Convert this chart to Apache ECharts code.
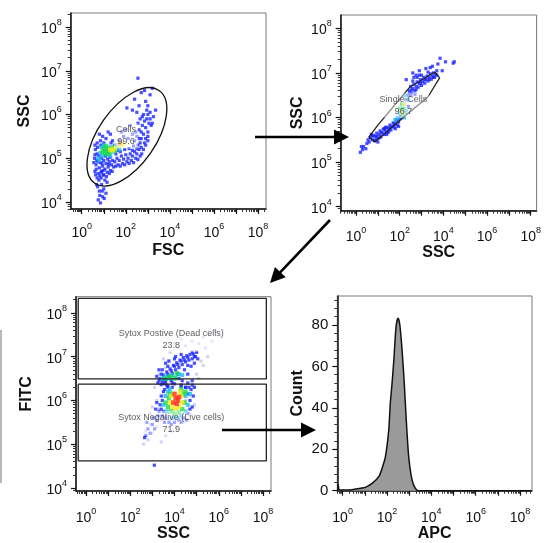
<!DOCTYPE html>
<html>
<head>
<meta charset="utf-8">
<script src="https://cdn.jsdelivr.net/npm/echarts@6/dist/echarts.min.js"></script>
<style>
  html, body { margin: 0; padding: 0; background: #fff; }
  #chart { width: 544px; height: 543px; }
</style>
</head>
<body>
<div id="chart"></div>
<script>
// ---- Axis tick labels (decade exponents) ----
const logXLabels = [0, 2, 4, 6, 8];
const logYLabels = [4, 5, 6, 7, 8];
const countLabels = [0, 20, 40, 60, 80];

// ---- Gate names and frequencies ----
const gateNames = ['Cells', 'Single Cells', 'Sytox Postive (Dead cells)', 'Sytox Negative (Live cells)'];
const gatePercents = ['99.6', '96.7', '23.8', '71.9'];

// ---- Panel 1: FSC vs SSC (log10 values) ----
const p1Blue = [
  [0.75,4.05],[0.85,3.98],[0.95,4.12],[0.8,4.25],[1.0,4.3],[0.9,4.4],[1.1,4.2],[0.72,4.35],[1.05,4.5],[0.88,4.55],[0.98,4.62],[1.15,4.45],[0.78,4.5],[0.82,4.15],
  [0.6,4.7],[0.65,4.85],[0.58,5.0],[0.7,5.1],[0.75,4.65],[0.8,4.78],[0.85,4.9],[0.9,4.7],[0.95,4.82],[1.0,4.95],[1.05,4.75],[1.1,4.88],[1.15,4.68],[1.2,4.8],[1.25,4.92],[1.3,4.72],[1.35,4.85],[0.68,4.95],[0.78,5.05],[0.62,5.2],[0.72,5.25],[0.82,4.6],[1.0,4.62],[1.18,4.98],[1.4,4.95],[1.45,4.8],[0.9,5.0],[1.08,5.05],[0.55,4.9],[1.28,5.02],[0.66,4.75],[0.92,4.88],[1.22,4.86],[0.74,4.92],
  [0.63,4.62],[0.7,4.55],[0.88,4.68],[0.97,4.72],[1.12,4.58],[1.25,4.65],[1.38,4.7],[0.6,5.08],[0.87,5.3],[1.33,5.35],[1.5,5.3],[0.67,4.4],[0.93,4.25],[1.02,4.08],
  [0.7,5.35],[0.85,5.4],[0.95,5.5],[1.1,5.45],[1.2,5.6],[1.3,5.55],[0.8,5.55],[1.4,5.4],[1.0,5.35],[0.6,5.3],
  [1.5,4.92],[1.6,5.0],[1.7,4.95],[1.8,5.05],[1.9,4.98],[2.0,5.08],[2.1,5.0],[2.2,5.1],[2.3,5.05],[2.4,5.15],[2.5,5.1],[2.6,5.2],[1.55,5.1],[1.75,5.15],[1.95,5.2],[2.15,5.22],[2.35,5.28],[2.55,5.3],[2.7,5.25],[1.65,4.85],[1.85,4.88],[2.05,4.92],[2.25,4.95],[2.45,5.0],[2.65,5.05],
  [1.55,4.82],[1.75,4.82],[1.95,4.85],[2.15,4.88],[2.35,4.9],[2.55,4.97],[2.72,5.1],[2.8,5.2],[2.9,5.3],[3.0,5.4],[2.5,5.22],[2.3,5.18],[1.62,5.18],
  [1.7,5.4],[1.9,5.5],[2.1,5.45],[2.3,5.55],[2.0,5.65],[2.2,5.75],[1.8,5.6],[2.4,5.4],
  [2.5,5.5],[2.6,5.45],[2.7,5.6],[2.8,5.55],[2.9,5.7],[2.75,5.75],[2.85,5.85],[2.95,5.9],[3.0,6.0],[3.1,6.05],[2.65,5.35],[2.9,5.45],[3.0,5.6],[3.05,5.8],[2.6,5.65],[2.55,5.8],[2.8,6.0],[2.95,6.1],[3.1,5.9],[2.45,5.6],[2.7,5.45],[3.15,5.75],[2.85,5.35],[2.75,5.95],[2.65,5.9],[3.0,5.5],[3.25,5.95],[3.35,6.1],[3.2,5.8],
  [2.3,6.1],[2.6,6.2],[2.9,6.3],[3.1,6.45],[3.2,6.6],[2.7,6.5],[2.4,6.35],[2.05,6.15],[2.85,6.55],[3.0,6.2],[2.55,6.83],[2.5,6.05]
];
const p1Cyan = [[0.75,5.0],[0.85,5.12],[0.95,5.05],[1.05,5.2],[1.15,5.1],[1.25,5.25],[1.4,5.15],[1.55,5.22],[1.7,5.2],[0.9,5.25],[1.3,5.05],[1.6,5.3],[0.8,4.95],[1.0,5.3]];
const p1Green = [[0.95,5.15],[1.05,5.12],[1.15,5.2],[1.25,5.15],[1.35,5.22],[1.45,5.25],[1.1,5.28],[1.5,5.18],[1.0,5.22],[1.2,5.1]];
const p1Yellow = [[1.3,5.2],[1.4,5.18],[1.5,5.22],[1.7,5.3],[1.85,5.32]];
const p1Orange = [[1.75,5.34]];
// Elliptical "Cells" gate: centre, end of major axis, end of minor axis
const cellsGate = [[2.05, 5.49, 3.51, 6.55, 0.975, 5.86]];

// ---- Panel 2: singlet gate ----
const p2Blue = [
  [0.2,5.22],[0.3,5.28],[0.35,5.35],[0.45,5.3],[0.5,5.42],[0.25,5.35],
  [0.6,5.45],[0.65,5.55],[0.75,5.5],[0.8,5.6],[0.85,5.48],[0.9,5.58],[0.95,5.65],[1.0,5.53],[1.05,5.62],[1.1,5.7],[1.15,5.58],[1.2,5.66],[1.25,5.74],[1.3,5.62],[1.35,5.7],[1.4,5.78],[1.45,5.66],[1.5,5.75],[1.55,5.83],[1.6,5.72],[1.65,5.8],[1.7,5.88],[1.75,5.78],[1.8,5.86],[1.85,5.93],[1.9,5.83],[1.95,5.9],[2.0,5.97],[0.7,5.62],[0.9,5.5],[1.1,5.55],[1.3,5.75],[1.5,5.68],
  [0.55,5.5],[0.75,5.58],[0.95,5.57],[1.15,5.66],[1.35,5.78],[1.55,5.77],[1.75,5.85],[1.95,5.8],[1.0,5.45],[1.4,5.62],[1.8,5.75],
  [2.05,6.05],[2.15,6.15],[2.2,6.3],[2.3,6.4],[2.35,6.5],[2.1,6.3],[2.4,6.25],[2.45,6.55],
  [2.45,6.6],[2.5,6.7],[2.55,6.55],[2.6,6.65],[2.65,6.75],[2.7,6.6],[2.75,6.7],[2.8,6.8],[2.85,6.68],[2.9,6.76],[2.95,6.85],[3.0,6.72],[3.05,6.8],[3.1,6.9],[3.15,6.77],[3.2,6.85],[3.25,6.93],[3.3,6.82],[3.35,6.9],[3.4,6.98],[3.45,6.86],[3.5,6.93],[3.55,7.0],[3.6,6.9],[3.65,6.97],[2.6,6.82],[2.8,6.9],[3.0,6.95],[2.5,6.5],[2.7,6.52],
  [2.55,6.62],[2.75,6.63],[2.95,6.78],[3.15,6.85],[3.35,6.85],[3.55,6.9],[3.7,6.95],[2.65,6.9],[2.9,6.95],
  [2.3,6.85],[2.6,7.0],[2.9,7.05],[3.2,7.1],[3.5,7.15],[3.75,7.2],[3.85,7.33],[3.95,7.05],[4.1,7.25],[4.45,7.22],[4.5,7.25],[3.7,7.05],[3.4,7.12],[3.3,7.02],[2.75,6.95]
];
const p2Cyan = [[1.9,6.0],[2.0,6.1],[2.1,6.2],[2.2,6.0],[2.3,6.15],[1.8,5.95],[2.4,6.4],[2.25,6.5]];
const p2Green = [[2.0,6.2],[2.1,6.3],[2.2,6.2],[2.15,6.05]];
const p2Yellow = [[2.1,6.12],[2.2,6.3]];
const singletGate = [[0.59,5.56],[0.87,5.45],[1.92,5.90],[3.29,6.46],[3.83,6.89],[3.61,7.02],[2.46,6.68],[1.0,5.83],[0.59,5.56]];

// ---- Panel 3: SSC vs FITC (Sytox) ----
const p3Haze = [
  [2.6,5.0],[2.8,5.1],[2.7,5.3],[3.0,5.25],[2.9,5.45],[3.2,5.4],[3.1,5.6],[3.4,5.55],[3.3,5.8],[3.6,5.7],[3.0,5.85],[3.2,6.0],[3.5,6.1],[3.1,6.3],[3.4,6.4],[3.3,6.6],[3.6,6.75],[3.5,6.95],[3.8,7.1],[4.1,7.2],[4.5,7.25],[4.8,7.35],[5.1,7.3],[5.3,7.45],[5.6,7.5],[5.85,7.58],[5.4,7.2],[5.7,7.35],[5.0,7.1],[5.2,6.9],[5.0,6.6],[4.9,6.3],[5.1,6.5],[4.7,6.1],[4.9,5.9],[4.6,5.7],[4.4,5.5],[4.1,5.4],[3.9,5.3],[3.6,5.2],[3.4,5.05],[3.8,5.55],[4.2,5.6],[4.5,6.0],[5.3,6.8],[5.5,7.0],[4.0,7.3],[4.3,7.4],[3.7,6.9],[2.9,5.7]
];
const p3Blue = [
  [3.25,6.4],[3.35,6.5],[3.45,6.42],[3.5,6.58],[3.6,6.48],[3.65,6.65],[3.75,6.55],[3.8,6.72],[3.9,6.62],[3.95,6.8],[4.05,6.7],[4.1,6.86],[4.2,6.75],[4.25,6.92],[4.35,6.82],[4.4,6.98],[4.5,6.88],[4.55,7.02],[4.65,6.92],[4.7,7.05],[4.8,6.95],[4.85,7.06],[4.95,7.0],[3.4,6.6],[3.7,6.78],[4.0,6.95],[4.3,7.05],[4.6,6.8],[4.9,6.85],[5.0,7.1],[3.55,6.38],[3.85,6.45],[4.15,6.6],[4.45,6.7],[4.75,6.78],[3.2,6.55],[3.3,6.7],[5.05,6.95],[4.2,6.5],[3.9,6.4],[4.6,6.6],[4.35,6.45],
  [3.3,6.45],[3.5,6.48],[3.7,6.6],[3.85,6.68],[4.0,6.78],[4.15,6.82],[4.3,6.9],[4.45,6.92],[4.6,6.98],[4.8,7.1],[4.9,7.0],[3.45,6.7],[3.6,6.85],[3.75,6.9],[4.05,7.0],
  [3.4,6.36],[3.7,6.33],[4.0,6.38],[4.3,6.35],[4.6,6.4],[4.8,6.45],[3.6,6.42],[4.5,6.3],
  [3.35,5.9],[3.4,6.1],[3.5,5.75],[3.55,6.25],[3.6,5.6],[3.7,6.3],[3.75,5.5],[4.5,6.3],[4.6,6.15],[4.7,6.0],[4.75,6.25],[4.8,5.85],[4.85,6.1],[4.6,5.7],[4.4,5.6],[4.2,5.55],[4.0,5.5],[3.45,5.65],[3.3,5.75],[4.9,6.3],[3.65,6.35],[3.9,6.3],[4.3,6.32],
  [3.4,5.8],[3.45,6.0],[3.5,6.2],[4.65,6.3],[4.7,5.8],[4.55,5.55],[4.3,5.5],[3.85,5.45],[3.55,5.5],[4.8,6.35],[3.15,5.8],[3.2,5.95],
  [2.7,5.2],[2.8,5.35],[2.9,5.25],[3.0,5.45],[3.1,5.35],[3.2,5.55],[2.75,5.5],[3.05,5.6],[2.65,5.15],[3.25,5.65],[3.09,4.52]
];
const p3Cyan = [[3.45,6.5],[3.6,6.55],[3.75,6.5],[3.9,6.58],[4.05,6.52],[4.2,6.6],[4.35,6.58],[3.5,5.9],[3.6,6.1],[3.65,5.75],[3.7,6.2],[4.5,6.1],[4.6,5.9],[4.5,5.75],[4.3,5.65],[4.1,5.6],[3.9,5.6],[4.7,6.15],[3.8,6.25]];
const p3Green = [[3.6,6.5],[3.8,6.55],[4.0,6.5],[4.1,6.62],[3.6,5.95],[3.7,5.85],[3.75,6.05],[4.4,6.15],[4.45,5.95],[4.35,5.8],[4.2,5.72],[4.0,5.7],[3.85,5.75],[4.5,6.2],[3.8,6.15],[4.3,6.25]];
const p3Yellow = [[3.8,5.95],[3.9,5.85],[4.3,6.1],[4.35,5.95],[4.2,5.85],[4.05,5.8],[3.85,6.1],[4.25,6.2]];
const p3Red = [[3.95,5.95],[4.05,6.05],[4.15,6.0],[4.1,5.92],[4.0,6.15],[4.2,6.08]];
const deadGate = [[-0.35,8.33],[8.15,8.33],[8.15,6.49],[-0.35,6.49],[-0.35,8.33]];
const liveGate = [[-0.35,6.37],[8.15,6.37],[8.15,4.62],[-0.35,4.62],[-0.35,6.37]];

// ---- Panel 4: APC histogram ----
const histX = [-0.22,-0.2,-0.14,0.27,0.73,1.02,1.33,1.63,1.78,1.93,2.08,2.15,2.23,2.31,2.41,2.50,2.58,2.68,2.78,2.87,2.98,3.13,3.28,3.43,8.5];
const histY = [0,3,0.3,0.3,1.1,1.6,3.5,6.8,10.8,16.4,29.3,42.2,51.9,63.1,79.2,83.3,80,68,51.9,34.1,16.4,5.2,1.1,0,0];

// ---- Layout of the four plots ----
const FONT = '"Liberation Sans", Arial, Helvetica, sans-serif';
const grids = [
  { left: 70.7, top: 13, width: 195.3, height: 196 },
  { left: 340.7, top: 15, width: 196.3, height: 195.7 },
  { left: 76, top: 296.7, width: 195, height: 194.3 },
  { left: 337.3, top: 296, width: 194.7, height: 194.7 }
];
const ranges = [
  { x: [-0.5, 8.36], y: [3.84, 8.32] },
  { x: [-0.7, 8.27], y: [3.91, 8.3] },
  { x: [-0.45, 8.36], y: [3.93, 8.37] },
  { x: [-0.24, 8.54], y: [0, 94] }
];
const axisNames = [['FSC', 'SSC'], ['SSC', 'SSC'], ['SSC', 'FITC'], ['APC', 'Count']];
const xNameGap = [34, 33, 33, 35];
const yNameGap = [38, 35, 41, 32];
const xLabelMargin = [13, 15, 16, 16];

const richSup = {
  b: { fontSize: 14, fontFamily: FONT, color: '#111', lineHeight: 18, verticalAlign: 'bottom' },
  s: { fontSize: 9, fontFamily: FONT, color: '#111', lineHeight: 10, verticalAlign: 'top' }
};
function decadeLabel(v) { return '{b|10}{s|' + Math.round(v) + '}'; }
function decades(r) { const o = []; for (let d = Math.ceil(r[0]); d <= Math.floor(r[1]); d++) o.push(d); return o; }
function logMinor(r) {
  const o = [];
  for (let d = Math.floor(r[0]) - 1; d <= Math.ceil(r[1]); d++) {
    for (let k = 2; k <= 9; k++) { const v = d + Math.log10(k); if (v > r[0] && v < r[1]) o.push(v); }
  }
  return o;
}
function linearMinor(r, step) { const o = []; for (let v = step; v < r[1]; v += step) if (v % 20 !== 0) o.push(v); return o; }

const xAxes = [], yAxes = [];
grids.forEach(function (g, i) {
  const rx = ranges[i].x, ry = ranges[i].y;
  const isHist = i === 3;
  xAxes.push({
    type: 'value', gridIndex: i, min: rx[0], max: rx[1], position: 'bottom',
    name: axisNames[i][0], nameLocation: 'middle', nameGap: xNameGap[i],
    nameTextStyle: { fontFamily: FONT, fontWeight: 'bold', fontSize: 16, color: '#111' },
    axisLine: { show: true, onZero: false, lineStyle: { color: '#111', width: 1.5 } },
    axisTick: { show: true, length: 5, customValues: decades(rx), lineStyle: { color: '#111', width: 1.2 } },
    axisLabel: { customValues: logXLabels, formatter: decadeLabel, rich: richSup, margin: xLabelMargin[i] },
    splitLine: { show: false }
  });
  xAxes.push({
    type: 'value', gridIndex: i, min: rx[0], max: rx[1], position: 'bottom',
    axisLine: { show: false, onZero: false },
    axisTick: { show: true, length: 3, customValues: logMinor(rx), lineStyle: { color: '#333', width: 1 } },
    axisLabel: { show: false }, splitLine: { show: false }
  });
  yAxes.push({
    type: 'value', gridIndex: i, min: ry[0], max: ry[1], position: 'left',
    name: axisNames[i][1], nameLocation: 'middle', nameGap: yNameGap[i], nameRotate: 90,
    nameTextStyle: { fontFamily: FONT, fontWeight: 'bold', fontSize: 16, color: '#111' },
    axisLine: { show: true, onZero: false, lineStyle: { color: '#111', width: 1.5 } },
    axisTick: { show: true, length: 5, customValues: isHist ? countLabels : decades(ry), lineStyle: { color: '#111', width: 1.2 } },
    axisLabel: isHist
      ? { customValues: countLabels, fontFamily: FONT, fontSize: 15, color: '#111', margin: 9 }
      : { customValues: logYLabels, formatter: decadeLabel, rich: richSup, margin: 9 },
    splitLine: { show: false }
  });
  yAxes.push({
    type: 'value', gridIndex: i, min: ry[0], max: ry[1], position: 'left',
    axisLine: { show: false, onZero: false },
    axisTick: { show: true, length: 3, customValues: isHist ? linearMinor(ry, 4) : logMinor(ry), lineStyle: { color: '#333', width: 1 } },
    axisLabel: { show: false }, splitLine: { show: false }
  });
});

function dots(i, data, color, size) {
  return {
    type: 'scatter', xAxisIndex: 2 * i, yAxisIndex: 2 * i, data: data,
    symbol: 'rect', symbolSize: size, itemStyle: { color: color }, silent: true, z: 2
  };
}
function gateLine(i, data) {
  return {
    type: 'line', xAxisIndex: 2 * i, yAxisIndex: 2 * i, data: data, symbol: 'none',
    lineStyle: { color: '#222', width: 1.3 }, silent: true, z: 4, animation: false
  };
}
function gateLabel(i, pos, k) {
  return {
    type: 'scatter', xAxisIndex: 2 * i, yAxisIndex: 2 * i, data: [pos], symbolSize: 1,
    itemStyle: { color: 'rgba(0,0,0,0)' }, silent: true, z: 6,
    label: {
      show: true, position: 'inside', formatter: gateNames[k] + '\n' + gatePercents[k],
      fontFamily: FONT, fontSize: 9, lineHeight: 12, color: '#333', align: 'center',
      backgroundColor: 'rgba(255,255,255,0.6)', padding: [1, 2, 0, 2]
    }
  };
}

const BLUE = '#1a26ff', CYAN = '#19b9f2', GREEN = '#1ed84a', YELLOW = '#f2ea1e', ORANGE = '#ff8a10', RED = '#ff2a0c', HAZE = '#c2c4f2';

const series = [
  dots(0, p1Blue, BLUE, 3.2), dots(0, p1Cyan, CYAN, 4), dots(0, p1Green, GREEN, 4.5), dots(0, p1Yellow, YELLOW, 4.5), dots(0, p1Orange, ORANGE, 4),
  {
    type: 'custom', xAxisIndex: 0, yAxisIndex: 0, data: cellsGate, silent: true, z: 4,
    encode: { x: 0, y: 1 },
    renderItem: function (params, api) {
      const c = api.coord([api.value(0), api.value(1)]);
      const p = api.coord([api.value(2), api.value(3)]);
      const q = api.coord([api.value(4), api.value(5)]);
      const a = Math.hypot(p[0] - c[0], p[1] - c[1]);
      const b = Math.hypot(q[0] - c[0], q[1] - c[1]);
      const rot = Math.atan2(-(p[1] - c[1]), p[0] - c[0]);
      return {
        type: 'ellipse', x: c[0], y: c[1], rotation: rot,
        shape: { cx: 0, cy: 0, rx: a, ry: b },
        style: { fill: 'none', stroke: '#111', lineWidth: 1.3 }
      };
    }
  },
  gateLabel(0, [2.01, 5.51], 0),

  dots(1, p2Blue, BLUE, 3.2), dots(1, p2Cyan, CYAN, 4), dots(1, p2Green, GREEN, 4), dots(1, p2Yellow, YELLOW, 4),
  gateLine(1, singletGate),
  gateLabel(1, [2.17, 6.28], 1),

  dots(2, p3Haze, HAZE, 3), dots(2, p3Blue, BLUE, 3.2), dots(2, p3Cyan, CYAN, 4), dots(2, p3Green, GREEN, 4.5), dots(2, p3Yellow, YELLOW, 4.5), dots(2, p3Red, RED, 4.5),
  gateLine(2, deadGate), gateLine(2, liveGate),
  gateLabel(2, [3.855, 7.40], 2),
  gateLabel(2, [3.855, 5.48], 3),

  {
    type: 'line', xAxisIndex: 6, yAxisIndex: 6,
    data: histX.map(function (x, k) { return [x, histY[k]]; }),
    symbol: 'none', smooth: 0.25, silent: true, z: 3,
    lineStyle: { color: '#111', width: 1.5 },
    areaStyle: { color: '#9a9a9a', opacity: 1 }
  }
];

// Flow arrows joining the plots
function arrow(x1, y1, x2, y2) {
  const len = Math.hypot(x2 - x1, y2 - y1), ux = (x2 - x1) / len, uy = (y2 - y1) / len;
  const hl = 15, hw = 7.5;
  const bx = x2 - ux * hl, by = y2 - uy * hl;
  return [
    { type: 'line', shape: { x1: x1, y1: y1, x2: bx + ux, y2: by + uy }, style: { stroke: '#000', lineWidth: 2.6 }, z: 10 },
    { type: 'polygon', shape: { points: [[x2, y2], [bx - uy * hw, by + ux * hw], [bx + uy * hw, by - ux * hw]] }, style: { fill: '#000' }, z: 10 }
  ];
}
const graphics = [].concat(
  arrow(255, 137, 349, 137),
  arrow(330, 220, 270, 283),
  arrow(222, 430, 316, 430),
  [{ type: 'line', shape: { x1: 1, y1: 330, x2: 1, y2: 483 }, style: { stroke: '#a0a0a0', lineWidth: 1.5 } }]
);

const chart = echarts.init(document.getElementById('chart'), null, { renderer: 'canvas' });
chart.setOption({
  animation: false,
  backgroundColor: '#fff',
  textStyle: { fontFamily: FONT },
  grid: grids.map(function (g) {
    return Object.assign({ show: true, borderColor: '#7a7a7a', borderWidth: 1, backgroundColor: 'transparent' }, g);
  }),
  xAxis: xAxes,
  yAxis: yAxes,
  series: series,
  graphic: graphics
});
</script>
</body>
</html>
